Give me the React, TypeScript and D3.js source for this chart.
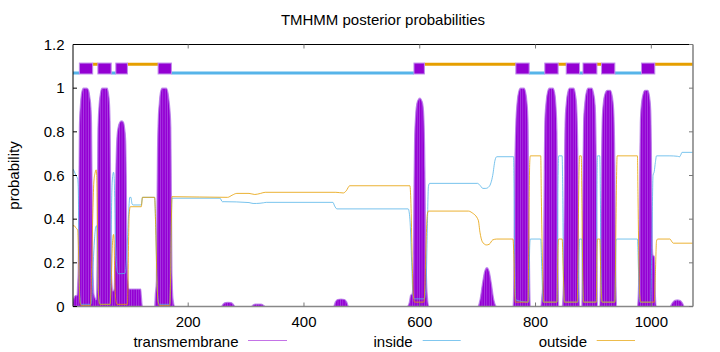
import React from 'react';
import * as d3 from 'd3';

const W = 720;
const H = 352;
const SEQ_LEN = 1072;

const xTicks = [200, 400, 600, 800, 1000];
const yTicks = [0, 0.2, 0.4, 0.6, 0.8, 1, 1.2];
const yTickLabels = ['0', '0.2', '0.4', '0.6', '0.8', '1', '1.2'];

const title = 'TMHMM posterior probabilities';
const yLabel = 'probability';
const seriesNames = ['transmembrane', 'inside', 'outside'];

// predicted topology (top bar)
const helices: [number, number][] = [
  [12, 35], [44, 67], [75, 95], [148, 171], [590, 608], [766, 789],
  [816, 839], [853, 876], [882, 906], [914, 937], [983, 1006],
];
const insideSegs: [number, number][] = [
  [1, 12], [67, 75], [171, 590], [789, 816], [876, 882], [937, 983],
];
const outsideSegs: [number, number][] = [
  [35, 44], [95, 148], [608, 766], [839, 853], [906, 914], [1006, 1072],
];

// posterior probabilities (residue, probability)
const tmProb: [number, number][] = [
  [1, 0.02], [3, 0.04], [5, 0.05], [8, 0.05], [9, 0.1], [10, 0.17], [11, 0.45], [12, 0.82], [14, 0.93], [16, 0.98],
  [19, 1.0], [25, 1.0], [28, 0.99], [30, 0.96], [32, 0.91], [33, 0.84], [34, 0.55], [35, 0.2], [36, 0.12], [37, 0.06],
  [39, 0.04], [41, 0.03], [42, 0.08], [43, 0.4], [44, 0.8], [46, 0.92], [48, 0.97], [51, 1.0], [60, 1.0], [62, 0.98],
  [64, 0.93], [65, 0.85], [66, 0.55], [67, 0.2], [68, 0.12], [70, 0.07], [72, 0.08], [73, 0.14], [74, 0.3], [75, 0.6],
  [77, 0.78], [79, 0.82], [82, 0.845], [85, 0.85], [88, 0.845], [90, 0.82], [92, 0.76], [93, 0.6], [94, 0.3], [96, 0.12],
  [98, 0.08], [118, 0.08], [119, 0.05], [121, 0.0], [142, 0.0], [143, 0.05], [145, 0.12], [146, 0.45], [147, 0.72], [148, 0.84],
  [150, 0.93], [152, 0.98], [155, 1.0], [162, 1.0], [165, 0.98], [167, 0.94], [169, 0.88], [170, 0.82], [171, 0.5], [172, 0.15],
  [174, 0.03], [177, 0.0],
  [257, 0.0], [260, 0.01], [264, 0.018], [269, 0.019], [274, 0.018], [278, 0.01], [281, 0.0],
  [309, 0.0], [312, 0.007], [316, 0.011], [321, 0.011], [326, 0.011], [330, 0.006], [333, 0.0],
  [451, 0.0], [454, 0.02], [458, 0.032], [464, 0.034], [470, 0.032], [474, 0.02], [477, 0.0],
  [578, 0.0], [582, 0.02], [584, 0.05], [587, 0.06], [589, 0.22], [590, 0.55], [591, 0.75], [593, 0.88], [595, 0.93], [598, 0.95],
  [600, 0.954], [602, 0.95], [605, 0.93], [607, 0.87], [609, 0.62], [610, 0.35], [611, 0.2], [613, 0.05], [616, 0.0],
  [700, 0.0], [704, 0.03], [708, 0.1], [712, 0.16], [716, 0.178], [720, 0.16], [724, 0.1], [728, 0.03], [733, 0.0],
  [761, 0.0], [762, 0.05], [763, 0.3], [764, 0.6], [766, 0.84], [768, 0.93], [771, 0.985], [774, 1.0], [780, 1.0], [783, 0.98],
  [785, 0.94], [787, 0.85], [788, 0.6], [789, 0.3], [790, 0.1], [791, 0.0],
  [809, 0.0], [811, 0.05], [813, 0.12], [814, 0.3], [815, 0.62], [816, 0.84], [818, 0.93], [821, 0.985], [824, 1.0], [830, 1.0],
  [833, 0.98], [835, 0.93], [837, 0.8], [838, 0.45], [839, 0.15], [840, 0.0],
  [846, 0.0], [848, 0.1], [849, 0.3], [850, 0.62], [851, 0.84], [853, 0.93], [856, 0.985], [859, 1.0], [866, 1.0], [869, 0.97],
  [871, 0.92], [873, 0.72], [874, 0.38], [875, 0.1], [876, 0.0],
  [880, 0.0], [881, 0.3], [882, 0.62], [883, 0.84], [885, 0.93], [888, 0.985], [891, 1.0], [897, 1.0], [900, 0.98], [903, 0.92],
  [905, 0.65], [906, 0.3], [907, 0.0],
  [911, 0.0], [912, 0.1], [913, 0.38], [914, 0.64], [915, 0.84], [917, 0.93], [920, 0.975], [924, 0.99], [929, 0.99], [932, 0.97],
  [935, 0.9], [937, 0.65], [938, 0.3], [939, 0.1], [940, 0.0],
  [976, 0.0], [978, 0.1], [979, 0.32], [980, 0.64], [981, 0.84], [983, 0.93], [986, 0.975], [989, 0.99], [994, 0.99], [997, 0.96],
  [999, 0.9], [1000, 0.75], [1001, 0.45], [1002, 0.26], [1003, 0.235], [1005, 0.23], [1006, 0.2], [1007, 0.05], [1009, 0.0],
  [1032, 0.0], [1036, 0.015], [1040, 0.027], [1045, 0.03], [1050, 0.027], [1054, 0.015], [1057, 0.0], [1072, 0.0],
];

const insideProb: [number, number][] = [
  [1, 0.63], [3, 0.62], [6, 0.6], [9, 0.585], [10, 0.55], [11, 0.35], [12, 0.12], [13, 0.04], [15, 0.01], [32, 0.01],
  [34, 0.06], [36, 0.2], [38, 0.3], [40, 0.36], [42, 0.37], [43, 0.3], [44, 0.12], [46, 0.03], [48, 0.01], [65, 0.01],
  [66, 0.1], [67, 0.35], [69, 0.58], [71, 0.615], [72, 0.6], [73, 0.5], [74, 0.35], [76, 0.2], [78, 0.155], [80, 0.15],
  [91, 0.152], [93, 0.2], [95, 0.3], [97, 0.42], [99, 0.5], [101, 0.5], [103, 0.47], [105, 0.465], [119, 0.465], [121, 0.5],
  [142, 0.5], [144, 0.35], [146, 0.12], [148, 0.03], [150, 0.01], [168, 0.01], [170, 0.2], [171, 0.4], [172, 0.496], [255, 0.496],
  [259, 0.48], [262, 0.48], [305, 0.476], [312, 0.472], [318, 0.472], [330, 0.475], [335, 0.477], [450, 0.477], [453, 0.46], [457, 0.447],
  [580, 0.447], [583, 0.4], [586, 0.2], [588, 0.06], [590, 0.035], [608, 0.035], [611, 0.1], [613, 0.35], [615, 0.55], [617, 0.564],
  [700, 0.564], [704, 0.555], [709, 0.541], [714, 0.541], [720, 0.55], [726, 0.6], [730, 0.67], [733, 0.686], [762, 0.686], [763, 0.5],
  [764, 0.2], [766, 0.03], [788, 0.02], [789, 0.15], [790, 0.28], [791, 0.309], [809, 0.309], [811, 0.15], [813, 0.02], [837, 0.02],
  [838, 0.3], [839, 0.6], [840, 0.69], [846, 0.69], [847, 0.5], [848, 0.2], [850, 0.02], [873, 0.02], [875, 0.25], [876, 0.309],
  [880, 0.309], [881, 0.15], [883, 0.02], [905, 0.02], [906, 0.5], [907, 0.69], [911, 0.69], [912, 0.5], [913, 0.2], [915, 0.02],
  [937, 0.02], [938, 0.15], [939, 0.3], [940, 0.309], [976, 0.309], [978, 0.15], [980, 0.02], [999, 0.02], [1001, 0.3], [1003, 0.6],
  [1005, 0.618], [1007, 0.66], [1009, 0.69], [1032, 0.69], [1045, 0.688], [1049, 0.686], [1051, 0.695], [1053, 0.706], [1072, 0.706],
];

const outsideProb: [number, number][] = [
  [1, 0.37], [3, 0.37], [6, 0.36], [9, 0.35], [10, 0.3], [11, 0.2], [12, 0.08], [13, 0.02], [15, 0.005], [31, 0.005],
  [32, 0.05], [33, 0.15], [35, 0.4], [37, 0.57], [39, 0.61], [41, 0.626], [42, 0.6], [43, 0.45], [44, 0.2], [45, 0.06],
  [47, 0.01], [65, 0.01], [67, 0.1], [69, 0.28], [71, 0.33], [72, 0.3], [73, 0.15], [75, 0.03], [77, 0.01], [95, 0.01],
  [96, 0.1], [97, 0.3], [98, 0.42], [100, 0.457], [119, 0.457], [121, 0.5], [142, 0.5], [144, 0.35], [146, 0.12], [148, 0.02],
  [150, 0.005], [168, 0.005], [170, 0.2], [171, 0.4], [172, 0.503], [268, 0.5], [276, 0.51], [284, 0.518], [305, 0.518], [315, 0.513],
  [325, 0.518], [333, 0.523], [455, 0.523], [468, 0.52], [473, 0.53], [479, 0.553], [583, 0.553], [585, 0.45], [587, 0.2], [589, 0.05],
  [591, 0.02], [607, 0.02], [609, 0.1], [611, 0.3], [613, 0.42], [615, 0.437], [684, 0.437], [690, 0.43], [701, 0.396], [704, 0.34],
  [708, 0.297], [715, 0.282], [720, 0.285], [726, 0.305], [733, 0.309], [761, 0.309], [763, 0.2], [765, 0.02], [787, 0.02], [788, 0.2],
  [789, 0.5], [790, 0.66], [791, 0.69], [809, 0.69], [810, 0.5], [812, 0.2], [814, 0.02], [837, 0.02], [838, 0.15], [839, 0.28],
  [840, 0.309], [846, 0.309], [848, 0.15], [850, 0.02], [872, 0.02], [874, 0.4], [875, 0.6], [876, 0.69], [879, 0.69], [880, 0.5],
  [881, 0.25], [883, 0.02], [905, 0.02], [906, 0.25], [907, 0.309], [911, 0.309], [913, 0.1], [915, 0.02], [937, 0.02], [939, 0.4],
  [940, 0.6], [941, 0.69], [976, 0.69], [977, 0.5], [978, 0.3], [980, 0.05], [982, 0.02], [1005, 0.02], [1007, 0.15], [1009, 0.3],
  [1011, 0.309], [1032, 0.309], [1036, 0.295], [1038, 0.29], [1072, 0.29],
];

const TM_LEVEL = 1.09;
const IN_LEVEL = 1.07;
const OUT_LEVEL = 1.11;

const C_TM = '#9400D3';
const C_IN = '#56B4E9';
const C_OUT = '#E69F00';
const FONT = '"Liberation Sans", Arial, Helvetica, sans-serif';

export default function App() {
  const left = 73, right = 693, top = 44.5, bottom = 306.5;
  const x = d3.scaleLinear().domain([1, SEQ_LEN]).range([left, right]);
  const y = d3.scaleLinear().domain([0, 1.2]).range([bottom, top]);

  const area = d3.area<[number, number]>()
    .x(d => x(d[0]))
    .y0(y(0))
    .y1(d => y(d[1]))
    .curve(d3.curveMonotoneX);
  const line = d3.line<[number, number]>()
    .x(d => x(d[0]))
    .y(d => y(d[1]))
    .curve(d3.curveMonotoneX);

  const boxH = y(1.065) - y(1.115);

  const legend = [
    { name: seriesNames[0], color: C_TM, textEnd: 238.5, l0: 248, l1: 287, op: 0.55 },
    { name: seriesNames[1], color: C_IN, textEnd: 412.7, l0: 422.7, l1: 460.7, op: 0.75 },
    { name: seriesNames[2], color: C_OUT, textEnd: 587, l0: 596.7, l1: 635, op: 0.7 },
  ];

  return (
    <svg width={W} height={H} style={{ position: 'absolute', left: 0, top: 0, background: '#fff' }}
      fontFamily={FONT}>
      <defs>
        <clipPath id="plotClip">
          <rect x={left} y={top} width={right - left} height={bottom - top} />
        </clipPath>
        <pattern id="imp" width={2.4} height={10} patternUnits="userSpaceOnUse">
          <rect width={2.4} height={10} fill={C_TM} />
          <rect x={1.6} width={0.8} height={10} fill="#a83ee2" />
        </pattern>
      </defs>
      <rect x={0} y={0} width={W} height={H} fill="#fff" />

      <text x={(left + right) / 2} y={25} textAnchor="middle" fontSize={15} fill="#000">{title}</text>
      <text transform={`translate(19,${(top + bottom) / 2}) rotate(-90)`} textAnchor="middle" fontSize={15} fill="#000">{yLabel}</text>

      <g clipPath="url(#plotClip)">
        <path d={area(tmProb) || ''} fill="url(#imp)" stroke="#b67ae8" strokeWidth={1.2} strokeOpacity={0.8} />
        <path d={line(insideProb) || ''} fill="none" stroke={C_IN} strokeWidth={1} strokeOpacity={0.8} />
        <path d={line(outsideProb) || ''} fill="none" stroke={C_OUT} strokeWidth={1} strokeOpacity={0.8} />

        {insideSegs.map((s, i) => (
          <line key={'in' + i} x1={x(s[0])} x2={x(s[1])} y1={y(IN_LEVEL)} y2={y(IN_LEVEL)} stroke={C_IN} strokeWidth={3} />
        ))}
        {outsideSegs.map((s, i) => (
          <line key={'out' + i} x1={x(s[0])} x2={x(s[1])} y1={y(OUT_LEVEL)} y2={y(OUT_LEVEL)} stroke={C_OUT} strokeWidth={3} />
        ))}
        {helices.map((h, i) => (
          <rect key={'h' + i} x={x(h[0])} width={x(h[1]) - x(h[0])} y={y(TM_LEVEL) - boxH / 2} height={boxH}
            fill={C_TM} stroke="#c08cec" strokeWidth={1} />
        ))}
      </g>

      {/* border */}
      <line x1={left} x2={right} y1={top} y2={top} stroke="#000" strokeWidth={1} />
      <line x1={left} x2={left} y1={top} y2={bottom} stroke="#000" strokeWidth={1} />
      <line x1={left} x2={right} y1={bottom} y2={bottom} stroke="#888" strokeWidth={1.6} />
      <line x1={right} x2={right} y1={top} y2={bottom} stroke="#888" strokeWidth={1.6} />

      {yTicks.map((t, i) => (
        <g key={'yt' + i}>
          <line x1={left} x2={left + 4} y1={y(t)} y2={y(t)} stroke="#000" strokeWidth={1} />
          <line x1={right - 4} x2={right} y1={y(t)} y2={y(t)} stroke="#777" strokeWidth={1} />
          <text x={64.5} y={y(t)} dy="0.35em" textAnchor="end" fontSize={15} fill="#000">{yTickLabels[i]}</text>
        </g>
      ))}
      {xTicks.map((t, i) => (
        <g key={'xt' + i}>
          <line x1={x(t)} x2={x(t)} y1={bottom} y2={bottom - 4} stroke="#777" strokeWidth={1} />
          <line x1={x(t)} x2={x(t)} y1={top} y2={top + 4} stroke="#777" strokeWidth={1} />
          <text x={x(t)} y={327} textAnchor="middle" fontSize={15} fill="#000">{String(t)}</text>
        </g>
      ))}

      {legend.map((l, i) => (
        <g key={'lg' + i}>
          <text x={l.textEnd} y={346.5} textAnchor="end" fontSize={15} fill="#000">{l.name}</text>
          <line x1={l.l0} x2={l.l1} y1={340.5} y2={340.5} stroke={l.color} strokeWidth={1} strokeOpacity={l.op} />
        </g>
      ))}
    </svg>
  );
}
